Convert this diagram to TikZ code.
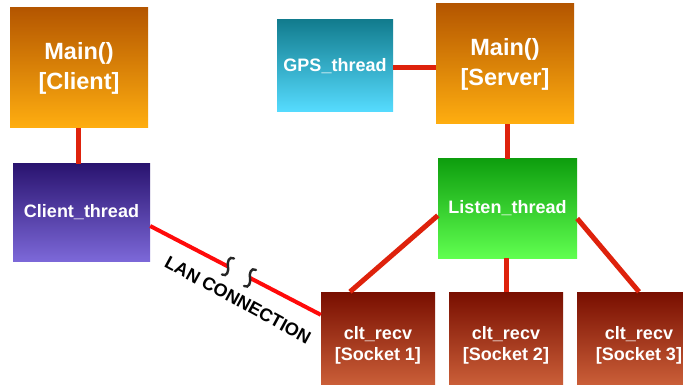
\documentclass[tikz,border=0pt]{standalone}
\usepackage{fontspec}
\setmainfont{Liberation Sans}
\usetikzlibrary{calc}

\definecolor{mainTop}{RGB}{180,86,0}
\definecolor{mainBot}{RGB}{255,174,16}
\definecolor{cliTop}{RGB}{42,20,112}
\definecolor{cliBot}{RGB}{124,104,216}
\definecolor{gpsTop}{RGB}{18,124,142}
\definecolor{gpsBot}{RGB}{86,220,255}
\definecolor{lisTop}{RGB}{14,158,14}
\definecolor{lisBot}{RGB}{96,255,80}
\definecolor{sockTop}{RGB}{120,14,0}
\definecolor{sockBot}{RGB}{214,106,64}
\definecolor{linkRed}{RGB}{222,34,12}
\definecolor{lanRed}{RGB}{255,10,10}

\begin{document}
\begin{tikzpicture}[x=1pt,y=-1pt,
  box/.style={rectangle, inner sep=0pt, text=white, align=center,
    font=\bfseries\fontsize{18}{21}\selectfont},
  mainbox/.style={box, top color=mainTop, bottom color=mainBot,
    minimum width=138pt, minimum height=120pt,
    font=\bfseries\fontsize{23.5}{30}\selectfont},
  clibox/.style={box, top color=cliTop, bottom color=cliBot,
    minimum width=137pt, minimum height=97pt},
  gpsbox/.style={box, top color=gpsTop, bottom color=gpsBot,
    minimum width=116pt, minimum height=92pt},
  lisbox/.style={box, top color=lisTop, bottom color=lisBot,
    minimum width=139pt, minimum height=99pt},
  sockbox/.style={box, top color=sockTop, bottom color=sockBot,
    minimum height=106pt},
  link/.style={draw=linkRed, line width=5pt},
  lan/.style={draw=lanRed, line width=4pt},
  squig/.style={draw=black!85, line width=2.4pt, line cap=round},
]
\clip (0,0) rectangle (683,385);
\fill[white] (0,0) rectangle (683,385);

% client side
\node[mainbox] (mainc) at (79,68) {Main()\\{[Client]}};
\node[clibox] (cthread) at (81.5,212.5) {Client\_thread};

% server side
\node[gpsbox] (gps) at (335,66) {GPS\_thread};
\node[mainbox] (mains) at (505,64) {Main()\\{[Server]}};
\node[lisbox] (listen) at (507.5,208.5) {Listen\_thread};

% receiver threads, one per socket
\node[sockbox, minimum width=114pt] (s1) at (378,345) {clt\_recv\\{[Socket 1]}};
\node[sockbox, minimum width=114pt] (s2) at (506,345) {clt\_recv\\{[Socket 2]}};
\node[sockbox, minimum width=124pt] (s3) at (639,345) {clt\_recv\\{[Socket 3]}};

% thread links
\draw[link] (mainc.south -| 78,0) -- (cthread.north -| 78,0);
\draw[link] (gps.east |- 0,68) -- (mains.west |- 0,68);
\draw[link] (mains.south -| listen.north) -- (listen.north);
\draw[link] ($(listen.west)+(0,7)$) -- ($(s1.north)+(-28,0)$);
\draw[link] (listen.south -| s2.north) -- (s2.north);
\draw[link] ($(listen.east)+(0,10)$) -- (s3.north);

% LAN link with a break
\coordinate (la) at ($(cthread.east)+(0,13.5)$);
\coordinate (lb) at ($(s1.north west)+(0,23)$);
\coordinate (b1) at ($(la)!0.456!(lb)$);
\coordinate (b2) at ($(la)!0.585!(lb)$);
\draw[lan] (la) -- (b1);
\draw[lan] (b2) -- (lb);
\foreach \p in {b1,b2}{
  \draw[squig] ($(\p)+(6,-8)$) .. controls ($(\p)+(1,-11)$) and ($(\p)+(-1,-4)$) .. (\p)
    .. controls ($(\p)+(1,4)$) and ($(\p)+(-1,11)$) .. ($(\p)+(-6,8)$);
}
\node[rotate=-28.5, font=\bfseries\fontsize{18}{18}\selectfont, inner sep=0pt]
  (lanlabel) at (238,300) {LAN CONNECTION};
\end{tikzpicture}
\end{document}
